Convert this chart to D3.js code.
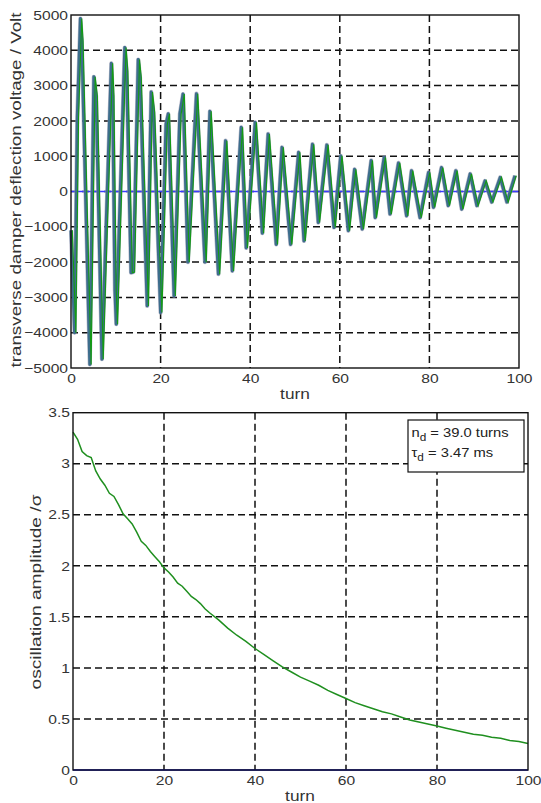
<!DOCTYPE html>
<html>
<head>
<meta charset="utf-8">
<script src="https://cdn.jsdelivr.net/npm/d3@7"></script>
<style>
  body { margin: 0; background: #fff; }
  svg { display: block; font-family: "Liberation Sans", Arial, sans-serif; }
</style>
</head>
<body>
<svg id="chart" width="541" height="803"></svg>
<script>
// --- data ---

// top panel: damper voltage, turns and values at the visible extremes and shelves
const kickTurns = [0, 0.8, 1.4, 2.1, 2.4, 4.2, 5.1, 5.6, 6.9, 9.0, 9.3, 9.8, 10.1, 12.0, 12.4,
  13.4, 13.9, 15.0, 15.4, 17.0, 17.9, 18.4, 20.0, 21.2, 21.7, 23.0, 24.3, 25.0, 26.1, 28.0,
  29.9, 31.0, 32.9, 34.5, 36.0, 38.0, 39.1, 41.1, 42.7, 44.0,
  45.8, 47.1, 49.0, 50.8, 52.0, 53.9, 55.2, 57.1, 58.7, 60.2, 61.9, 63.3, 65.0, 67.0, 67.9,
  69.9, 71.2, 73.1, 74.9, 76.0, 77.9, 79.8, 80.9, 82.7, 84.2, 85.9, 87.2, 89.1, 90.6, 92.4,
  93.9, 95.8, 97.3, 99.1];
const kickVolts = [-1100, -4000, 2100, 4900, 4270, -4900, 3250, 2700, -4750, 3630, 2700, -2800, -3760, 4080, 3420,
  -2300, -2280, 3740, 3230, -3240, 2820, 2240, -3430, 1900, 2200, -2960, 2200, 2760, -2000, 2770,
  -2000, 2270, -2340, 1440, -2250, 1820, -1600, 1960, -1180, 1630,
  -1500, 1250, -1500, 1110, -1400, 1340, -880, 1320, -1020, 1010, -1110, 630, -1065, 880, -740,
  970, -640, 810, -690, 590, -740, 540, -450, 680, -400, 590, -500, 500, -400, 300,
  -300, 400, -300, 450];

// bottom panel: oscillation amplitude
const ampTurns = [0, 1, 2, 3, 4, 5, 6, 7, 8, 9, 10, 11, 12, 13, 14, 15, 16, 17, 18, 19, 20,
  21, 22, 23, 24, 25, 26, 27, 28, 29, 30, 32, 34, 36, 38, 40, 42, 44, 46, 48, 50, 52, 54,
  56, 58, 60, 62, 64, 66, 68, 70, 72, 74, 76, 78, 80, 82, 84, 86, 88, 90, 92, 94, 96, 98, 100];
const ampValues = [3.31, 3.24, 3.12, 3.08, 3.06, 2.93, 2.85, 2.79, 2.71, 2.68, 2.60, 2.51, 2.46,
  2.41, 2.33, 2.24, 2.20, 2.14, 2.09, 2.04, 1.98, 1.94, 1.89, 1.83, 1.80, 1.75, 1.70, 1.67,
  1.63, 1.58, 1.54, 1.47, 1.39, 1.32, 1.26, 1.19, 1.13, 1.07, 1.01, 0.96, 0.91, 0.87, 0.83,
  0.78, 0.74, 0.70, 0.66, 0.63, 0.60, 0.57, 0.55, 0.52, 0.49, 0.47, 0.45, 0.43, 0.41, 0.39,
  0.37, 0.35, 0.34, 0.32, 0.31, 0.29, 0.28, 0.26];

const xTicks = [0, 20, 40, 60, 80, 100];
const voltTicks = [-5000, -4000, -3000, -2000, -1000, 0, 1000, 2000, 3000, 4000, 5000];
const ampTicks = [0, 0.5, 1, 1.5, 2, 2.5, 3, 3.5];
const ampTickLabels = ["0", "0.5", "1", "1.5", "2", "2.5", "3", "3.5"];

const svg = d3.select("#chart");

// widen text a bit, the original glyphs are stretched horizontally
function stretch(sel, f) {
  sel.each(function () {
    const w = this.getComputedTextLength();
    d3.select(this).attr("textLength", w * f).attr("lengthAdjust", "spacingAndGlyphs");
  });
}

function drawPanel(opts) {
  const { x, y, yTicks, yFormat, gridY } = opts;
  const g = svg.append("g");
  const [x0, x1] = x.range();
  const [y0, y1] = y.range();

  // grid
  g.append("g").selectAll("line").data(xTicks.slice(1, -1)).enter().append("line")
    .attr("x1", (d) => x(d)).attr("x2", (d) => x(d))
    .attr("y1", y1).attr("y2", y0)
    .attr("stroke", "#111").attr("stroke-width", 1.5).attr("stroke-dasharray", "7,4");
  g.append("g").selectAll("line").data(gridY).enter().append("line")
    .attr("x1", x0).attr("x2", x1)
    .attr("y1", (d) => y(d)).attr("y2", (d) => y(d))
    .attr("stroke", "#111").attr("stroke-width", 1.5).attr("stroke-dasharray", "7,4");

  // axes via d3, then restyle
  const ax = g.append("g").attr("transform", `translate(0,${y0})`)
    .call(d3.axisBottom(x).tickValues(xTicks).tickSize(0).tickPadding(opts.xPad));
  const ay = g.append("g").attr("transform", `translate(${x0},0)`)
    .call(d3.axisLeft(y).tickValues(yTicks).tickFormat(yFormat).tickSize(0).tickPadding(3));
  [ax, ay].forEach((a) => {
    a.select(".domain").remove();
    a.selectAll("text").attr("font-size", 13).attr("fill", "#333")
      .attr("font-family", '"Liberation Sans", Arial, sans-serif');
    stretch(a.selectAll("text"), 1.2);
  });
  return g;
}

function frame(g, x, y) {
  const [x0, x1] = x.range();
  const [y0, y1] = y.range();
  g.append("rect").attr("x", x0).attr("y", y1).attr("width", x1 - x0).attr("height", y0 - y1)
    .attr("fill", "none").attr("stroke", "#111").attr("stroke-width", 1.4);
}

// --- top panel ---
const xTop = d3.scaleLinear().domain([0, 100]).range([71, 519]);
const yTop = d3.scaleLinear().domain([-5000, 5000]).range([368, 15]);
const topPanel = drawPanel({
  x: xTop, y: yTop, yTicks: voltTicks, yFormat: d3.format("d"), xPad: 6,
  gridY: voltTicks.slice(1, -1),
});

const kick = kickTurns.map((t, i) => [t, kickVolts[i]]);
const lineTop = d3.line().x((d) => xTop(d[0])).y((d) => yTop(d[1]));

topPanel.append("line")
  .attr("x1", xTop(0)).attr("x2", xTop(100))
  .attr("y1", yTop(0)).attr("y2", yTop(0))
  .attr("stroke", "#3a3aff").attr("stroke-width", 1.3);
topPanel.append("path").datum(kick).attr("d", lineTop)
  .attr("fill", "none").attr("stroke", "#8a8aa8").attr("stroke-width", 4.2)
  .attr("stroke-linejoin", "round").attr("opacity", 0.6);
topPanel.append("path").datum(kick).attr("d", lineTop)
  .attr("fill", "none").attr("stroke", "#3d6e8c").attr("stroke-width", 3)
  .attr("stroke-linejoin", "round");
topPanel.append("path").datum(kick).attr("d", lineTop)
  .attr("transform", "translate(1.3,0)")
  .attr("fill", "none").attr("stroke", "#139a13").attr("stroke-width", 1.1);
frame(topPanel, xTop, yTop);

// --- bottom panel ---
const xBot = d3.scaleLinear().domain([0, 100]).range([73, 528]);
const yBot = d3.scaleLinear().domain([0, 3.5]).range([770, 412.7]);
const botPanel = drawPanel({
  x: xBot, y: yBot, yTicks: ampTicks, yFormat: (d, i) => ampTickLabels[i], xPad: 6,
  gridY: ampTicks.slice(1, -1),
});

const amp = ampTurns.map((t, i) => [t, ampValues[i]]);
botPanel.append("path").datum(amp)
  .attr("d", d3.line().x((d) => xBot(d[0])).y((d) => yBot(d[1])))
  .attr("fill", "none").attr("stroke", "#1f8f1f").attr("stroke-width", 1.5);
botPanel.append("line")
  .attr("x1", xBot(0)).attr("x2", xBot(100))
  .attr("y1", yBot(0)).attr("y2", yBot(0))
  .attr("stroke", "#1010ff").attr("stroke-width", 1.6);
frame(botPanel, xBot, yBot);

// legend box
const box = botPanel.append("g");
box.append("rect").attr("x", 408).attr("y", 420).attr("width", 116).attr("height", 52)
  .attr("fill", "#fff").attr("stroke", "#111").attr("stroke-width", 1.2);
const boxLines = [
  { sym: "n", rest: " = 39.0 turns", y: 437 },
  { sym: "\u03c4", rest: " = 3.47 ms", y: 457 },
];
boxLines.forEach((l) => {
  const t = box.append("text")
    .attr("transform", `translate(411.5,${l.y}) scale(1.18,1)`)
    .attr("font-size", 12.5).attr("fill", "#222");
  t.append("tspan").text(l.sym);
  t.append("tspan").attr("dy", 4).attr("font-size", 10).text("d");
  t.append("tspan").attr("dy", -4).text(l.rest);
});

// axis labels
svg.append("text").attr("x", 295).attr("y", 399).attr("text-anchor", "middle")
  .attr("font-size", 15).attr("fill", "#333").text("turn")
  .call(stretch, 1.15);
svg.append("text").attr("x", 300).attr("y", 801).attr("text-anchor", "middle")
  .attr("font-size", 15).attr("fill", "#333").text("turn")
  .call(stretch, 1.15);
svg.append("text")
  .attr("transform", "translate(21,190) rotate(-90)")
  .attr("text-anchor", "middle").attr("font-size", 15.5).attr("fill", "#333")
  .attr("textLength", 355).attr("lengthAdjust", "spacingAndGlyphs")
  .text("transverse damper deflection voltage / Volt");
svg.append("text")
  .attr("transform", "translate(41,592) rotate(-90)")
  .attr("text-anchor", "middle").attr("font-size", 15.5).attr("fill", "#333")
  .attr("textLength", 195).attr("lengthAdjust", "spacingAndGlyphs")
  .text("oscillation amplitude /\u03c3");
</script>
</body>
</html>
